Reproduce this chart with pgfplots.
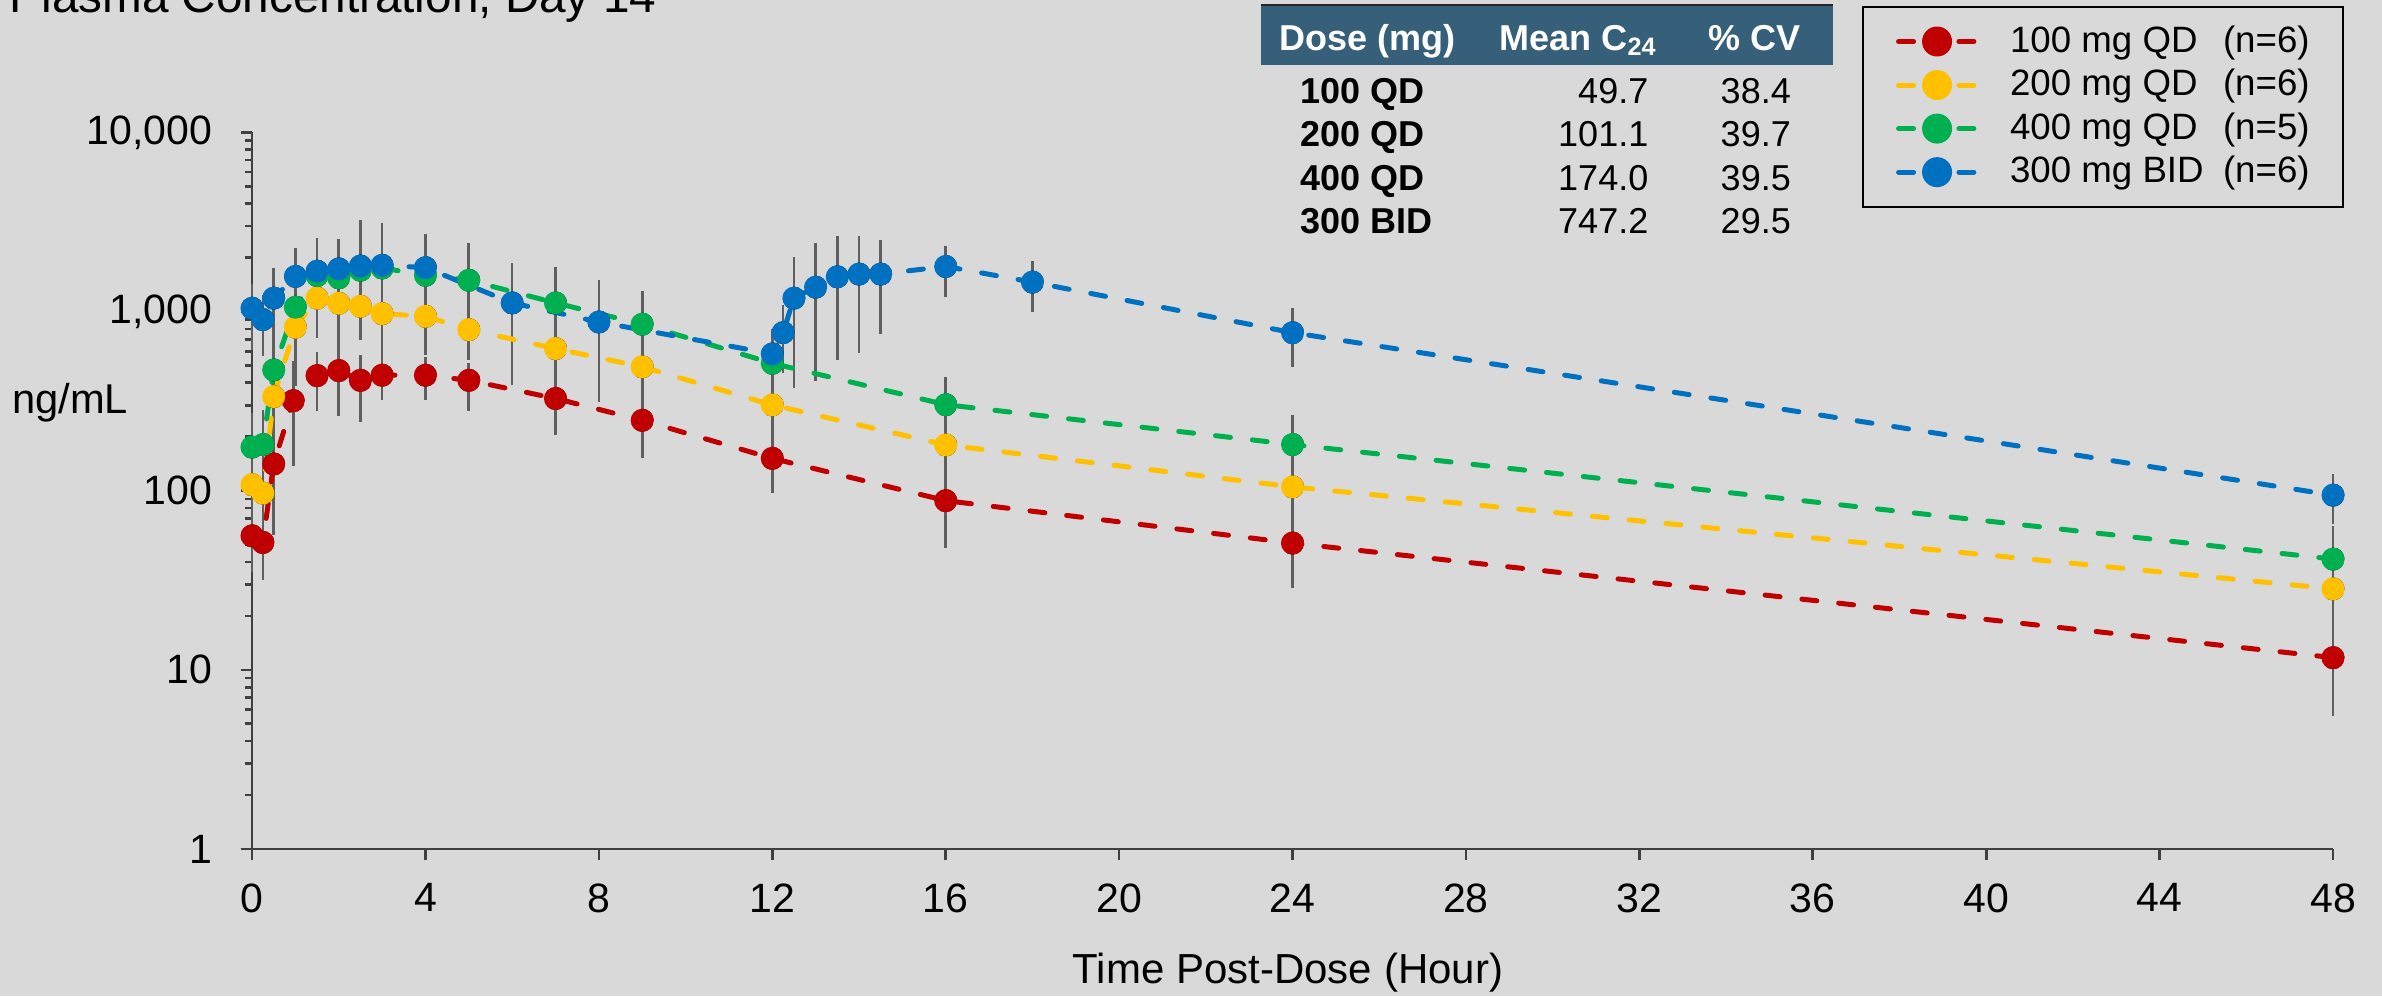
\documentclass[border=0pt]{standalone}
\usepackage{fontspec}
\setmainfont{Liberation Sans}
\usepackage{pgfplots}
\pgfplotsset{compat=1.18}
\usepackage{pgfplotstable}
\definecolor{bg}{HTML}{D9D9D9}
\definecolor{cred}{HTML}{C00000}
\definecolor{cyel}{HTML}{FFC000}
\definecolor{cgrn}{HTML}{00B050}
\definecolor{cblu}{HTML}{0070C0}
\definecolor{errc}{HTML}{5F5F5F}
\definecolor{axc}{HTML}{404040}
\definecolor{hdr}{RGB}{54,95,122}

\pgfplotstableread{
t c ep em
0 56 15 18
0.25 51.4 15 17
0.5 141 70 80
0.95 318 170 170
1.5 439 110 140
2 468 130 186
2.5 413 113 153
3 441 73 94
4 441 73 94
5 413 65 112
7 327 76 106
9 247 58 83
12 151.5 41 46
16 88 27 36
24 51 18 20
48 11.7 5 5.7
}\tabR

\pgfplotstableread{
t c ep em
0 108 40 40
0.25 97 40 40
0.5 335 230 250
1 817 400 400
1.5 1187 420 420
2 1112 480 480
2.5 1070 320 320
3 973 390 390
4 940 320 320
5 792 212 212
7 621 182 182
9 491 120 152
12 301 93 101
16 180 61 60
24 105 37 40
48 28.3 20.7 12
}\tabY

\pgfplotstableread{
t c ep em
0 175 77 77
0.25 181 81 81
0.5 472 250 250
1 1057 600 600
1.5 1588 605 605
2 1543 697 697
2.5 1700 700 700
3 1750 700 700
4 1593 607 607
5 1494 746 746
7 1117 527 527
9 849 353 353
12 514 227 124
16 302 99 61
24 181 64 39
48 41.5 17.4 20
}\tabG

\pgfplotstableread{
t c ep em
0 1043 278 383
0.25 902 240 291
0.5 1187 438 438
1 1570 530 530
1.5 1679 711 711
2 1730 608 608
2.5 1795 1190 1045
3 1811 1088 1000
4 1758 736 736
6 1117 613 696
8 874 506 535
12 580 130 190
12.25 763 241 274
12.5 1187 675 784
13 1367 873 923
13.5 1563 886 981
14 1618 831 981
14.5 1618 689 804
16 1784 359 490
18 1459 310 388
24 762 210 235
48 94.4 20 24
}\tabB

\newcommand{\fsz}[1]{\fontsize{#1}{1.2\dimexpr#1\relax}\selectfont}
\newcommand{\legtxt}[2]{\makebox[63.9bp][l]{#1}#2}

\begin{document}
\begin{tikzpicture}
\useasboundingbox (0,0) rectangle (714.6bp,-298.8bp);
\fill[bg] (0,0) rectangle (714.6bp,-298.8bp);
\begin{scope}[x=0.3bp,y=-0.3bp]
  % title (cut at top as in the reference)
  \node[anchor=base west, inner sep=0pt, font=\fsz{14.3bp}] at (9,12.5) {Plasma Concentration, Day 14};
  % y label
  \node[anchor=base west, inner sep=0pt, font=\fsz{12.5bp}] at (11.7,413.3) {ng/mL};
  % x label
  \node[anchor=base, inner sep=0pt, font=\fsz{12.6bp}] at (1288,984) {Time Post-Dose (Hour)};
  % summary table
  \fill[hdr] (1261,5) rectangle (1833,65);
  \draw[black!85, line width=0.6bp] (1261,5) -- (1833,5);
  \begin{scope}[every node/.style={inner sep=0pt, font=\fsz{10.8bp}}]
    \node[anchor=base west, text=white, font=\fsz{10.8bp}\bfseries] at (1279,50) {Dose (mg)};
    \node[anchor=base west, text=white, font=\fsz{10.8bp}\bfseries] at (1499,50) {Mean C\textsubscript{24}};
    \node[anchor=base west, text=white, font=\fsz{10.8bp}\bfseries] at (1708,50) {\% CV};
    \node[anchor=base west, font=\fsz{10.8bp}\bfseries] at (1300,103.5) {100 QD};
    \node[anchor=base west, font=\fsz{10.8bp}\bfseries] at (1300,147) {200 QD};
    \node[anchor=base west, font=\fsz{10.8bp}\bfseries] at (1300,190.5) {400 QD};
    \node[anchor=base west, font=\fsz{10.8bp}\bfseries] at (1300,234) {300 BID};
    \node[anchor=base east] at (1649,103.5) {49.7};
    \node[anchor=base east] at (1649,147) {101.1};
    \node[anchor=base east] at (1649,190.5) {174.0};
    \node[anchor=base east] at (1649,234) {747.2};
    \node[anchor=base east] at (1791.5,103.5) {38.4};
    \node[anchor=base east] at (1791.5,147) {39.7};
    \node[anchor=base east] at (1791.5,190.5) {39.5};
    \node[anchor=base east] at (1791.5,234) {29.5};
  \end{scope}
\end{scope}

\begin{axis}[
  at={(75.6bp,-254.7bp)}, anchor=south west,
  scale only axis, width=624.3bp, height=215bp,
  xmin=0, xmax=48, ymin=1, ymax=10000, ymode=log,
  axis x line*=bottom, axis y line*=left,
  axis line style={draw=axc, line width=0.8bp},
  every tick/.style={draw=axc, line width=0.8bp},
  tick align=outside,
  major tick length=3.4bp, minor tick length=2.2bp,
  xtick={0,4,8,12,16,20,24,28,32,36,40,44,48},
  xticklabels={0,4,8,12,16,20,24,28,32,36,40,44,48},
  ytick={1,10,100,1000,10000},
  yticklabels={1,10,100,{1,000},{10,000}},
  minor ytick={2,3,4,5,6,7,8,9,20,30,40,50,60,70,80,90,200,300,400,500,600,700,800,900,2000,3000,4000,5000,6000,7000,8000,9000},
  ticklabel style={font=\fsz{12.3bp}, inner sep=0pt},
  xticklabel style={anchor=north, yshift=-6.8bp},
  yticklabel style={anchor=east, xshift=-8.3bp},
  clip=false,
  every axis plot/.append style={line width=1.5bp, dash pattern=on 4.5bp off 6.6bp, line cap=round, mark=*, mark size=2.7bp},
  legend style={at={(0.7737,1.1762)}, anchor=north west, draw=black, line width=0.6bp, fill=bg,
    font=\fsz{11bp}, inner xsep=9.9bp, inner ysep=5.6bp, row sep=3.6bp, column sep=9.6bp,
    nodes={inner sep=0pt}},
  legend cell align=left,
  legend image code/.code={
    \draw[#1, mark=none] (0bp,0bp) -- (5bp,0bp);
    \draw[#1, mark=none] (18.1bp,0bp) -- (23.1bp,0bp);
    \fill[#1, solid, draw=none] (11.55bp,0bp) circle (4.5bp);
  },
]
% error bars first
\addplot[forget plot, only marks, mark=none, error bars/.cd, y dir=both, y explicit,
  error bar style={draw=errc, line width=0.8bp, solid},
  error mark options={draw=errc, line width=0.8bp, mark size=1.8bp, solid}]
  table[x=t, y=c, y error plus=ep, y error minus=em] {\tabR};
\addplot[forget plot, only marks, mark=none, error bars/.cd, y dir=both, y explicit,
  error bar style={draw=errc, line width=0.8bp, solid},
  error mark options={draw=errc, line width=0.8bp, mark size=1.8bp, solid}]
  table[x=t, y=c, y error plus=ep, y error minus=em] {\tabY};
\addplot[forget plot, only marks, mark=none, error bars/.cd, y dir=both, y explicit,
  error bar style={draw=errc, line width=0.8bp, solid},
  error mark options={draw=errc, line width=0.8bp, mark size=1.8bp, solid}]
  table[x=t, y=c, y error plus=ep, y error minus=em] {\tabG};
\addplot[forget plot, only marks, mark=none, error bars/.cd, y dir=both, y explicit,
  error bar style={draw=errc, line width=0.8bp, solid},
  error mark options={draw=errc, line width=0.8bp, mark size=1.8bp, solid}]
  table[x=t, y=c, y error plus=ep, y error minus=em] {\tabB};
% series
\addplot[color=cred, mark options={solid, fill=cred, draw=cred}] table[x=t, y=c] {\tabR};
\addlegendentry{\legtxt{100 mg QD}{(n=6)}}
\addplot[color=cyel, mark options={solid, fill=cyel, draw=cyel}] table[x=t, y=c] {\tabY};
\addlegendentry{\legtxt{200 mg QD}{(n=6)}}
\addplot[color=cgrn, mark options={solid, fill=cgrn, draw=cgrn}] table[x=t, y=c] {\tabG};
\addlegendentry{\legtxt{400 mg QD}{(n=5)}}
\addplot[color=cblu, mark options={solid, fill=cblu, draw=cblu}] table[x=t, y=c] {\tabB};
\addlegendentry{\legtxt{300 mg BID}{(n=6)}}
\end{axis}
\end{tikzpicture}
\end{document}
